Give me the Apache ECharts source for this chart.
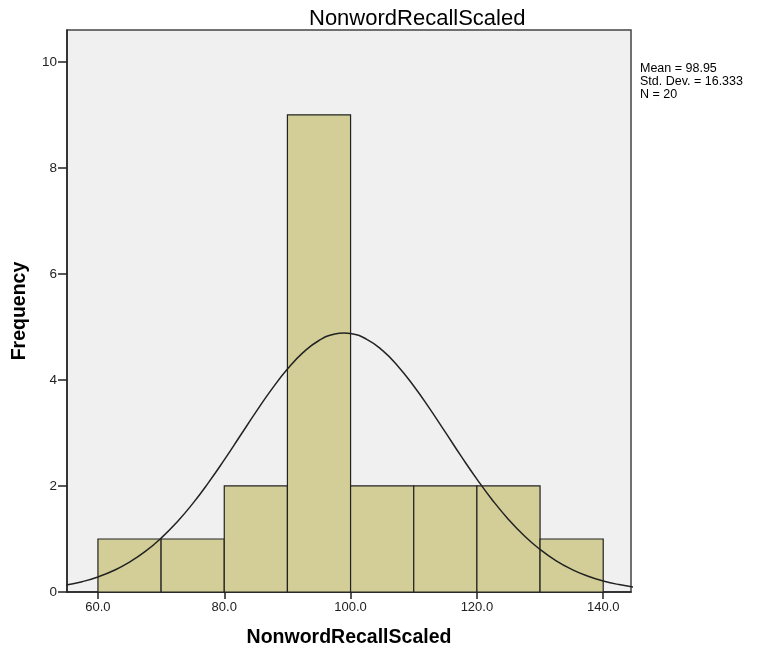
<!DOCTYPE html>
<html><head><meta charset="utf-8">
<script src="https://cdn.jsdelivr.net/npm/echarts@6/dist/echarts.min.js"></script>
<style>html,body{margin:0;padding:0;background:#fff}#c{width:764px;height:657px}</style>
</head><body><div id="c"></div>
<script>
const binStarts = [60, 70, 80, 90, 100, 110, 120, 130];
const binEnds   = [70, 80, 90, 100, 110, 120, 130, 140];
const counts    = [1, 1, 2, 9, 2, 2, 2, 1];
const curveX = [55, 57.5, 60, 62.5, 65, 67.5, 70, 72.5, 75, 77.5, 80, 82.5, 85, 87.5, 90, 92.5, 95, 97.5, 98.95, 100, 102.5, 105, 107.5, 110, 112.5, 115, 117.5, 120, 122.5, 125, 127.5, 130, 132.5, 135, 137.5, 140, 142.5, 145];
const curveY = [0.131, 0.195, 0.284, 0.405, 0.563, 0.765, 1.016, 1.317, 1.667, 2.063, 2.492, 2.942, 3.392, 3.821, 4.204, 4.519, 4.744, 4.866, 4.885, 4.875, 4.771, 4.561, 4.260, 3.886, 3.463, 3.015, 2.563, 2.129, 1.727, 1.369, 1.060, 0.802, 0.592, 0.428, 0.302, 0.208, 0.140, 0.092];
const xTicks = [60, 80, 100, 120, 140];
const statsLines = ['Mean = 98.95', 'Std. Dev. = 16.333', 'N = 20'];

const chart = echarts.init(document.getElementById('c'));
const font = 'Liberation Sans, Arial, sans-serif';
const binData = binStarts.map((s, i) => [s, binEnds[i], counts[i]]);
const curveData = curveX.map((x, i) => [x, curveY[i]]);

chart.setOption({
  animation: false,
  title: {
    text: 'NonwordRecallScaled', left: 304, top: 3,
    textStyle: { fontFamily: font, fontSize: 22, fontWeight: 'normal', color: '#000' }
  },
  grid: {
    left: 67, right: 133, top: 30, bottom: 65,
    outerBoundsMode: 'none', containLabel: false,
    show: true, backgroundColor: '#f0f0f0', borderColor: '#444', borderWidth: 1.5
  },
  xAxis: {
    type: 'value', min: 55.1, max: 144.4,
    name: 'NonwordRecallScaled', nameLocation: 'middle', nameGap: 36,
    nameTextStyle: { fontFamily: font, fontSize: 19.5, fontWeight: 'bold', color: '#000' },
    axisLine: { show: true, onZero: false, lineStyle: { color: '#222', width: 1.5 } },
    axisTick: { show: true, length: 7, customValues: xTicks, lineStyle: { color: '#222', width: 1.5 } },
    axisLabel: { customValues: xTicks, formatter: v => v.toFixed(1), fontFamily: font, fontSize: 13, color: '#222', margin: 9 },
    splitLine: { show: false }
  },
  yAxis: {
    type: 'value', min: 0, max: 10.6, interval: 2,
    name: 'Frequency', nameLocation: 'middle', nameGap: 37, nameRotate: 90,
    nameTextStyle: { fontFamily: font, fontSize: 19.5, fontWeight: 'bold', color: '#000' },
    axisLine: { show: true, lineStyle: { color: '#222', width: 1.5 } },
    axisTick: { show: true, length: 9, lineStyle: { color: '#222', width: 1.5 } },
    axisLabel: { fontFamily: font, fontSize: 13.5, color: '#222', margin: 10, showMaxLabel: false },
    splitLine: { show: false }
  },
  series: [
    {
      type: 'custom',
      data: binData,
      renderItem: function (params, api) {
        const p0 = api.coord([api.value(0), 0]);
        const p1 = api.coord([api.value(1), api.value(2)]);
        return {
          type: 'rect',
          shape: { x: p0[0], y: p1[1], width: p1[0] - p0[0], height: p0[1] - p1[1] },
          style: { fill: '#d3ce98', stroke: '#222', lineWidth: 1.2 }
        };
      },
      encode: { x: [0, 1], y: 2 }
    },
    {
      type: 'line', data: curveData, smooth: true, showSymbol: false, clip: true,
      lineStyle: { color: '#222', width: 1.5 }, z: 5
    }
  ],
  graphic: [{
    type: 'text', left: 640, top: 62,
    style: { text: statsLines.join('\n'), fontFamily: font, fontSize: 12.5, lineHeight: 13, fill: '#000' }
  }]
});
</script></body></html>
